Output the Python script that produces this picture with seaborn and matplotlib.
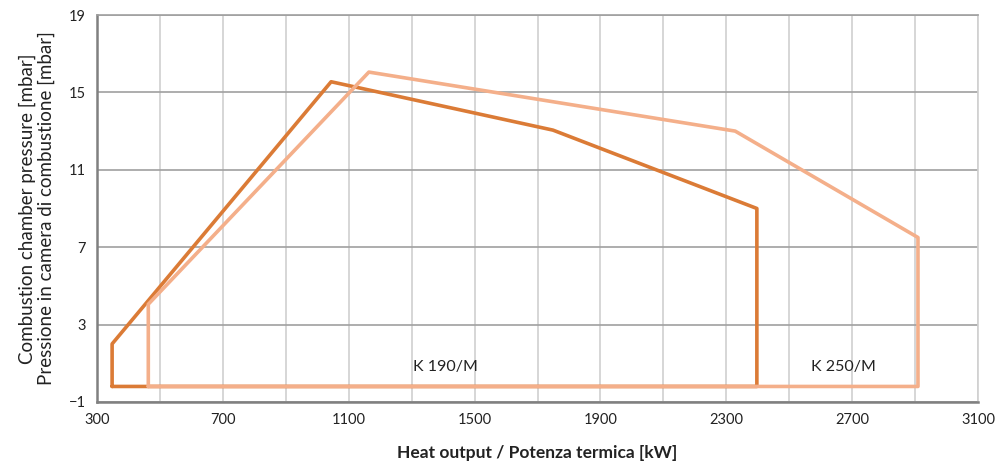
import pandas as pd
import numpy as np
import seaborn as sns
import matplotlib.pyplot as plt

# K 190/M working field
k190_x = [348, 348, 1044, 1749, 2397, 2397, 348]
k190_y = [-0.2, 2.0, 15.55, 13.05, 9.0, -0.2, -0.2]
# K 250/M working field
k250_x = [463, 463, 1164, 2328, 2909, 2909, 463]
k250_y = [-0.2, 4.05, 16.05, 13.0, 7.5, -0.2, -0.2]

labels = ['K 190/M', 'K 250/M']
label_pos = [(1406, 0.8), (2671, 0.8)]
colors = ['#DB7B36', '#F4AF8A']

df = pd.concat([
    pd.DataFrame({'x': k190_x, 'y': k190_y, 'model': labels[0], 'order': range(len(k190_x))}),
    pd.DataFrame({'x': k250_x, 'y': k250_y, 'model': labels[1], 'order': range(len(k250_x))}),
])

sns.set_style('white')
plt.rcParams['font.family'] = ['Lato', 'DejaVu Sans']

fig = plt.figure(figsize=(9.96, 4.69), dpi=100)
ax = fig.add_axes([0.0974, 0.143, 0.8846, 0.825])

sns.lineplot(data=df, x='x', y='y', hue='model', palette=colors, sort=False,
             estimator=None, units='model', linewidth=2.6, legend=False, ax=ax, zorder=3)

for lab, (lx, ly) in zip(labels, label_pos):
    ax.text(lx, ly, lab, ha='center', va='center', fontsize=11.5, color='#222222')

ax.set_xlim(300, 3100)
ax.set_ylim(-1, 19)
ax.set_xticks(np.arange(300, 3101, 400))
ax.set_xticks(np.arange(300, 3101, 200), minor=True)
ax.set_yticks(np.arange(-1, 20, 4))
ax.grid(axis='x', which='both', color='#D0D0D0', linewidth=1.2)
ax.grid(axis='y', which='major', color='#A0A0A0', linewidth=1.2)
ax.set_axisbelow(True)
ax.tick_params(axis='both', which='both', length=0, labelsize=10.5, colors='#222222', pad=8)

for s in ['left', 'bottom']:
    ax.spines[s].set_color('#808080')
    ax.spines[s].set_linewidth(1.8)
ax.spines['top'].set_color('#A0A0A0')
ax.spines['top'].set_linewidth(1.2)
ax.spines['right'].set_color('#D0D0D0')
ax.spines['right'].set_linewidth(1.2)

ax.set_xlabel('Heat output / Potenza termica [kW]', fontsize=12.5, fontweight='bold',
              color='#222222', labelpad=13)
ax.set_ylabel('Combustion chamber pressure [mbar]\nPressione in camera di combustione [mbar]',
              fontsize=13.5, color='#222222', labelpad=10, linespacing=1.1)

plt.savefig('out.png', dpi=100)
